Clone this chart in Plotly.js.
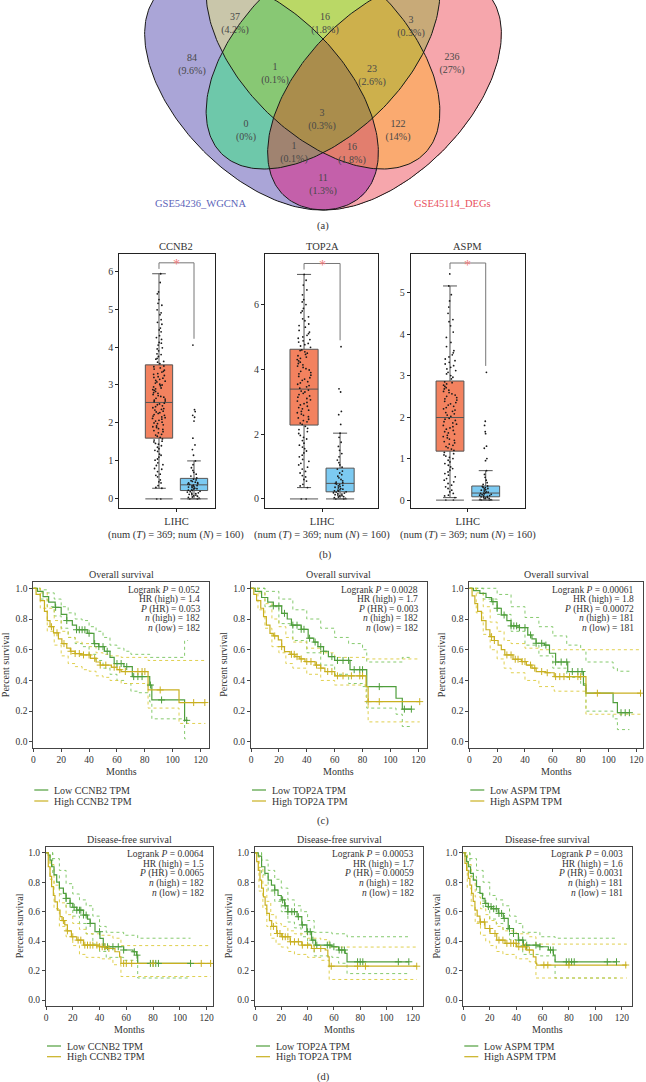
<!DOCTYPE html>
<html><head><meta charset="utf-8">
<script src="https://cdn.plot.ly/plotly-3.0.1.min.js"></script>
<style>html,body{margin:0;padding:0;background:#fff}#chart{width:646px;height:1082px}</style>
</head><body><div id="chart"></div>
<script>
// ---------------- DATA ----------------
// (a) Venn
const vennSetNames = ['GSE54236_WGCNA', 'GSE45114_DEGs'];
const vennCounts = [84, 37, 16, 3, 236, 1, 23, 0, 3, 122, 1, 16, 11];
const vennPcts = ['9.6%', '4.2%', '1.8%', '0.3%', '27%', '0.1%', '2.6%', '0%', '0.3%', '14%', '0.1%', '1.8%', '1.3%'];

// (b) boxplots: [lowerfence, q1, median, q3, upperfence]
const boxGenes = ['CCNB2', 'TOP2A', 'ASPM'];
const ccnb2TumorStats = [0.28, 1.6, 2.54, 3.53, 5.93];
const ccnb2NormalStats = [0, 0.22, 0.37, 0.54, 1.0];
const top2aTumorStats = [0.35, 2.28, 3.39, 4.62, 6.93];
const top2aNormalStats = [0, 0.22, 0.48, 0.95, 2.03];
const aspmTumorStats = [0.06, 1.18, 1.99, 2.87, 5.16];
const aspmNormalStats = [0, 0.08, 0.17, 0.34, 0.71];

const ccnb2TumorPts = [0,0,
 0.28,0.3,0.35,0.42,0.45,0.5,0.58,0.62,0.65,0.72,0.78,0.8,0.88,0.9,0.95,1.02,1.05,1.1,1.15,1.18,1.25,1.28,1.32,1.36,1.4,1.44,1.46,1.5,1.52,1.55,1.58,
 1.62,1.65,1.68,1.7,1.74,1.77,1.8,1.83,1.85,1.88,1.9,1.92,1.95,1.98,2.0,2.02,2.05,2.07,2.1,2.12,2.14,2.16,2.18,2.2,2.22,2.25,2.27,2.29,2.31,2.34,2.36,2.38,2.4,2.43,2.45,2.48,2.5,2.52,
 2.56,2.58,2.6,2.63,2.65,2.68,2.7,2.72,2.75,2.78,2.8,2.83,2.86,2.88,2.9,2.92,2.95,2.98,3.0,3.02,3.05,3.08,3.1,3.12,3.15,3.18,3.2,3.22,3.25,3.28,3.3,3.34,3.36,3.39,3.42,3.45,3.48,3.5,
 3.56,3.6,3.62,3.68,3.7,3.75,3.8,3.82,3.9,3.95,3.98,4.05,4.1,4.12,4.2,4.25,4.3,4.4,4.45,4.5,4.6,4.65,4.72,4.85,4.9,4.98,5.1,5.15,5.25,5.4,5.45,5.7,5.93];
const ccnb2NormalPts = [0,0,
 0.02,0.04,0.05,0.07,0.08,0.1,0.11,0.12,0.14,0.15,0.16,0.18,0.19,0.2,0.22,0.23,0.24,0.26,0.27,0.28,0.3,0.31,0.32,0.34,0.35,0.36,0.38,0.39,0.4,0.42,0.43,0.44,0.46,0.48,0.5,0.52,
 0.55,0.6,0.65,0.7,0.75,0.82,0.9,1.0,1.15,1.3,1.42,1.6,2.05,2.15,2.2,2.3,2.35,4.05];
const top2aTumorPts = [0,0,
 0.35,0.4,0.45,0.55,0.6,0.68,0.72,0.8,0.85,0.92,0.98,1.05,1.1,1.16,1.22,1.3,1.35,1.42,1.48,1.55,1.6,1.66,1.72,1.8,1.85,1.9,1.96,2.02,2.08,2.14,2.18,2.24,
 2.3,2.34,2.38,2.42,2.46,2.5,2.54,2.58,2.62,2.66,2.7,2.74,2.78,2.82,2.86,2.9,2.94,2.98,3.02,3.06,3.1,3.14,3.18,3.22,3.26,3.3,3.33,3.36,
 3.42,3.46,3.5,3.54,3.58,3.62,3.66,3.7,3.74,3.78,3.82,3.86,3.9,3.94,3.98,4.02,4.06,4.1,4.14,4.18,4.22,4.26,4.3,4.34,4.38,4.42,4.46,4.5,4.54,4.58,4.6,
 4.68,4.72,4.76,4.8,4.84,4.88,4.92,4.96,5.0,5.05,5.1,5.15,5.2,5.3,5.35,5.4,5.5,5.56,5.62,5.75,5.8,5.88,6.0,6.08,6.15,6.3,6.45,6.6,6.75,6.93];
const top2aNormalPts = [0,0,
 0.02,0.04,0.06,0.07,0.09,0.1,0.12,0.13,0.15,0.16,0.18,0.19,0.21,0.22,0.24,0.25,0.27,0.28,0.3,0.32,0.34,0.36,0.38,0.4,0.42,0.44,0.46,0.48,0.5,0.52,0.56,0.6,0.65,0.7,0.75,0.8,0.86,0.92,0.98,
 1.05,1.12,1.2,1.3,1.4,1.5,1.62,1.75,1.9,2.03,2.3,2.6,2.7,3.3,3.4,4.7];
const aspmTumorPts = [0,0,
 0.06,0.1,0.12,0.16,0.2,0.24,0.28,0.32,0.36,0.4,0.44,0.48,0.52,0.56,0.6,0.64,0.68,0.72,0.76,0.8,0.84,0.88,0.92,0.96,1.0,1.03,1.06,1.09,1.12,1.15,
 1.2,1.23,1.26,1.29,1.32,1.35,1.38,1.41,1.44,1.47,1.5,1.53,1.56,1.59,1.62,1.65,1.68,1.71,1.74,1.77,1.8,1.83,1.86,1.89,1.92,1.95,1.97,
 2.02,2.05,2.08,2.11,2.14,2.17,2.2,2.23,2.26,2.29,2.32,2.35,2.38,2.41,2.44,2.47,2.5,2.53,2.56,2.59,2.62,2.65,2.68,2.71,2.74,2.77,2.8,2.83,2.85,
 2.92,2.96,3.0,3.04,3.08,3.12,3.16,3.2,3.24,3.28,3.32,3.36,3.4,3.45,3.5,3.55,3.6,3.7,3.8,3.92,4.05,4.2,4.3,4.35,4.5,4.65,4.8,4.95,5.16,5.45];
const aspmNormalPts = [0,0,
 0.01,0.02,0.03,0.04,0.05,0.06,0.07,0.08,0.09,0.1,0.11,0.12,0.13,0.14,0.15,0.16,0.17,0.18,0.19,0.2,0.22,0.24,0.25,0.27,0.28,0.3,0.31,0.33,0.34,0.38,0.42,0.48,0.55,0.62,0.71,
 0.95,1.0,1.25,1.3,1.6,1.65,1.8,1.9,3.08];
const boxTickText = 'LIHC';
const boxNumText = '(num (<i>T</i>) = 369; num (<i>N</i>) = 160)';

// (c)/(d) Kaplan–Meier: [months, survival]
const osCcnb2Low = [[0,1],[3,0.98],[7,0.946],[11,0.91],[15.7,0.876],[20,0.83],[24,0.79],[28,0.76],[31,0.73],[38.7,0.707],[43.5,0.64],[47,0.62],[51,0.59],[55,0.55],[58,0.51],[65,0.49],[71,0.425],[82,0.425],[83.5,0.37],[85,0.273],[108.5,0.14],[111,0.14]];
const osCcnb2LowUp = [[0,1],[5,0.99],[10,0.97],[15,0.93],[20,0.88],[25,0.84],[30,0.8],[35,0.79],[40,0.75],[45,0.72],[50,0.68],[55,0.63],[60,0.61],[65,0.59],[70,0.57],[83.5,0.55],[108.5,0.66],[111,0.66]];
const osCcnb2LowLo = [[0,1],[5,0.93],[10,0.88],[15,0.82],[20,0.74],[25,0.68],[30,0.64],[35,0.62],[40,0.57],[45,0.53],[50,0.48],[55,0.44],[60,0.4],[65,0.38],[70,0.33],[75,0.32],[83.5,0.26],[85,0.15],[108.5,0.02],[111,0.02]];
const osCcnb2High = [[0,1],[2,0.96],[5,0.92],[8,0.85],[10,0.79],[12,0.75],[14.5,0.71],[18,0.67],[20.5,0.64],[24,0.61],[26.6,0.59],[30,0.575],[34,0.566],[41,0.544],[45,0.52],[48,0.5],[56,0.486],[60,0.47],[63,0.458],[82.3,0.338],[104.5,0.256],[123.4,0.256]];
const osCcnb2HighUp = [[0,1],[5,0.97],[10,0.87],[15,0.79],[20,0.72],[25,0.68],[30,0.65],[35,0.64],[40,0.62],[45,0.58],[50,0.57],[55,0.56],[63,0.55],[82.3,0.53],[123.4,0.53]];
const osCcnb2HighLo = [[0,1],[5,0.87],[10,0.72],[15,0.63],[20,0.56],[25,0.51],[30,0.49],[35,0.47],[40,0.46],[45,0.43],[50,0.42],[55,0.4],[63,0.38],[82.3,0.22],[104.5,0.12],[123.4,0.12]];
const osCcnb2LowCens = [16,24,31,33,35,37,40,44,47,50,53,60,63,67,72,75,78,84,92,110];
const osCcnb2HighCens = [13,17,22,27,30,33,36,40,44,48,52,58,62,66,75,78,80,91,115,123];

const osTop2aLow = [[0,1],[3,0.98],[7.6,0.94],[12,0.91],[16,0.885],[22,0.837],[26,0.8],[29,0.76],[36,0.733],[41,0.675],[45,0.65],[48,0.62],[52,0.59],[55.5,0.555],[60,0.53],[71,0.47],[83,0.36],[104,0.284],[108.5,0.213],[115,0.213]];
const osTop2aLowUp = [[0,1],[10,0.98],[20,0.93],[30,0.86],[40,0.8],[50,0.74],[60,0.68],[70,0.64],[80,0.6],[83,0.52],[104,0.52],[108.5,0.55],[115,0.55]];
const osTop2aLowLo = [[0,1],[10,0.88],[20,0.77],[30,0.66],[40,0.58],[50,0.5],[60,0.44],[70,0.38],[80,0.36],[83,0.22],[104,0.18],[108.5,0.1],[115,0.1]];
const osTop2aHigh = [[0,1],[2,0.96],[4,0.92],[7,0.87],[9,0.815],[11,0.76],[13.6,0.707],[16,0.69],[19.6,0.664],[22,0.62],[24,0.588],[28,0.57],[31.5,0.555],[35,0.54],[38.7,0.523],[46,0.5],[50,0.48],[53,0.458],[60,0.43],[82.5,0.36],[84,0.262],[121,0.262]];
const osTop2aHighUp = [[0,1],[5,0.97],[10,0.9],[15,0.8],[20,0.75],[25,0.68],[30,0.65],[40,0.61],[50,0.58],[60,0.55],[82.5,0.54],[121,0.54]];
const osTop2aHighLo = [[0,1],[5,0.86],[10,0.74],[15,0.62],[20,0.58],[25,0.51],[30,0.48],[40,0.44],[50,0.4],[60,0.37],[82.5,0.29],[84,0.13],[121,0.13]];
const osTop2aLowCens = [16,20,24,30,33,36,38,42,46,50,52,58,62,66,70,74,78,80,92,110,115];
const osTop2aHighCens = [17,22,29,31,33,36,40,43,47,50,55,58,62,66,72,78,80,84,92,121];

const osAspmLow = [[0,1],[3,0.985],[7.6,0.967],[12,0.94],[16,0.913],[20,0.87],[23,0.826],[27,0.79],[30,0.755],[36,0.744],[42,0.696],[45,0.67],[48,0.642],[54,0.63],[57.6,0.577],[62,0.52],[70.7,0.458],[82,0.37],[83.8,0.317],[103.3,0.256],[106.4,0.19],[115,0.19]];
const osAspmLowUp = [[0,1],[10,1.0],[20,0.96],[30,0.88],[40,0.81],[50,0.75],[60,0.69],[70,0.63],[80,0.6],[83.8,0.52],[103.3,0.48],[106.4,0.46],[115,0.46]];
const osAspmLowLo = [[0,1],[10,0.93],[20,0.83],[30,0.72],[40,0.63],[50,0.56],[60,0.48],[70,0.42],[80,0.38],[83.8,0.2],[103.3,0.15],[106.4,0.08],[115,0.08]];
const osAspmHigh = [[0,1],[2,0.95],[4,0.9],[6,0.85],[8.8,0.79],[12,0.73],[14.8,0.685],[18,0.66],[20.7,0.63],[23,0.6],[25.5,0.566],[31.4,0.538],[37.4,0.523],[41,0.5],[45,0.48],[48,0.458],[55,0.45],[61,0.425],[83.8,0.317],[123,0.317]];
const osAspmHighUp = [[0,1],[5,0.97],[10,0.88],[15,0.78],[20,0.72],[25,0.66],[30,0.64],[40,0.61],[50,0.6],[123,0.6]];
const osAspmHighLo = [[0,1],[5,0.84],[10,0.7],[15,0.6],[20,0.54],[25,0.48],[30,0.45],[40,0.4],[50,0.36],[61,0.33],[83.8,0.18],[123,0.18]];
const osAspmLowCens = [17,20,25,30,32,34,36,40,44,48,52,55,62,66,70,74,78,81,109,112,115];
const osAspmHighCens = [16,18,27,30,33,35,38,40,44,47,52,56,62,65,68,72,78,80,92,123];

const dfsCcnb2Low = [[0,1],[1.7,0.984],[3,0.95],[4.2,0.905],[6,0.85],[8,0.8],[10,0.76],[13,0.724],[15,0.69],[18,0.656],[20,0.63],[23,0.61],[28,0.577],[31,0.55],[33,0.52],[36.6,0.464],[40.3,0.419],[42.8,0.362],[58,0.34],[65,0.328],[67.7,0.305],[68.5,0.249],[108,0.249]];
const dfsCcnb2LowUp = [[0,1],[5,0.96],[10,0.88],[15,0.79],[20,0.72],[25,0.68],[30,0.64],[35,0.57],[40,0.5],[45,0.46],[58,0.44],[68.5,0.42],[108,0.42]];
const dfsCcnb2LowLo = [[0,1],[5,0.85],[10,0.72],[15,0.63],[20,0.57],[25,0.52],[30,0.45],[35,0.38],[40,0.33],[45,0.29],[58,0.27],[68.5,0.15],[108,0.15]];
const dfsCcnb2High = [[0,1],[1.7,0.905],[3,0.84],[4.2,0.77],[5.5,0.71],[6.7,0.667],[8.5,0.61],[10.5,0.566],[12,0.54],[14,0.51],[16,0.47],[19,0.43],[23,0.407],[28,0.373],[40,0.362],[45,0.35],[51.5,0.328],[55,0.294],[56,0.249],[123,0.249]];
const dfsCcnb2HighUp = [[0,1],[3,0.92],[6,0.78],[10,0.66],[15,0.58],[20,0.52],[25,0.48],[30,0.45],[40,0.44],[50,0.42],[56,0.37],[123,0.37]];
const dfsCcnb2HighLo = [[0,1],[3,0.82],[6,0.62],[10,0.5],[15,0.43],[20,0.37],[25,0.31],[30,0.29],[40,0.28],[50,0.24],[56,0.16],[123,0.16]];
const dfsCcnb2LowCens = [15,18,21,23,25,26,28,30,33,40,44,46,50,54,58,66,68,78,80,82,84,108];
const dfsCcnb2HighCens = [13,16,20,24,26,29,31,33,35,38,40,42,44,47,58,60,64,80,116,123];

const dfsTop2aLow = [[0,1],[2.5,0.977],[5,0.905],[7.5,0.86],[10,0.814],[12.5,0.78],[15,0.747],[17.5,0.71],[20,0.68],[22.5,0.64],[25,0.6],[32,0.566],[35.6,0.51],[39.4,0.464],[43,0.407],[46,0.373],[58.5,0.362],[63.6,0.34],[68.6,0.317],[70,0.26],[117,0.26]];
const dfsTop2aLowUp = [[0,1],[5,0.95],[10,0.88],[15,0.82],[20,0.76],[25,0.68],[30,0.64],[35,0.6],[40,0.54],[45,0.46],[58.5,0.45],[70,0.43],[117,0.43]];
const dfsTop2aLowLo = [[0,1],[5,0.85],[10,0.74],[15,0.67],[20,0.6],[25,0.53],[30,0.49],[35,0.43],[40,0.38],[45,0.3],[58.5,0.29],[63.6,0.25],[70,0.18],[117,0.18]];
const dfsTop2aHigh = [[0,1],[1.3,0.94],[2.5,0.88],[3.8,0.814],[5,0.76],[6.4,0.7],[7.7,0.645],[9,0.588],[11,0.54],[12.7,0.5],[16.5,0.452],[20,0.43],[26.7,0.396],[35.6,0.373],[43,0.35],[53.4,0.34],[55.4,0.294],[56.4,0.23],[123,0.23]];
const dfsTop2aHighUp = [[0,1],[3,0.9],[6,0.78],[9,0.67],[12,0.58],[16,0.52],[20,0.5],[25,0.47],[30,0.45],[40,0.42],[50,0.41],[56.4,0.36],[123,0.36]];
const dfsTop2aHighLo = [[0,1],[3,0.74],[6,0.62],[9,0.5],[12,0.42],[16,0.38],[20,0.36],[25,0.33],[30,0.31],[40,0.29],[50,0.27],[56.4,0.14],[123,0.14]];
const dfsTop2aLowCens = [15,21,23,25,28,30,33,36,40,42,44,47,55,57,60,64,66,68,78,80,82,109,117];
const dfsTop2aHighCens = [14,17,19,21,23,25,27,30,33,36,40,45,50,58,78,84,123];

const dfsAspmLow = [[0,1],[1.3,0.977],[2.5,0.94],[3.8,0.905],[5.5,0.86],[7.6,0.814],[10,0.77],[12.6,0.724],[14.5,0.69],[16.4,0.656],[19,0.635],[21.5,0.62],[26.5,0.588],[30.3,0.554],[34,0.486],[38,0.452],[41.7,0.407],[45.5,0.373],[58,0.362],[64.4,0.34],[68.2,0.305],[69.5,0.26],[116,0.26]];
const dfsAspmLowUp = [[0,1],[5,0.96],[10,0.88],[15,0.8],[20,0.71],[25,0.68],[30,0.64],[35,0.57],[40,0.52],[45,0.46],[58,0.43],[69.5,0.42],[116,0.42]];
const dfsAspmLowLo = [[0,1],[5,0.84],[10,0.73],[15,0.63],[20,0.55],[25,0.52],[30,0.48],[35,0.41],[40,0.37],[45,0.31],[58,0.3],[69.5,0.15],[116,0.15]];
const dfsAspmHigh = [[0,1],[1.3,0.927],[2.5,0.88],[3.8,0.826],[5,0.78],[6.3,0.724],[7.5,0.67],[8.8,0.61],[10.5,0.57],[12.6,0.53],[16.4,0.486],[20.2,0.452],[25.3,0.407],[31.6,0.385],[40.4,0.362],[48,0.34],[53,0.294],[55,0.249],[55.6,0.238],[123.8,0.238]];
const dfsAspmHighUp = [[0,1],[3,0.92],[6,0.82],[9,0.7],[13,0.62],[17,0.58],[20,0.54],[25,0.5],[30,0.47],[40,0.45],[50,0.43],[55,0.38],[123.8,0.38]];
const dfsAspmHighLo = [[0,1],[3,0.76],[6,0.64],[9,0.52],[13,0.44],[17,0.4],[20,0.37],[25,0.33],[30,0.31],[40,0.28],[50,0.26],[55,0.15],[123.8,0.15]];
const dfsAspmLowCens = [17,19,21,23,25,27,29,31,35,38,42,45,48,55,58,66,68,78,80,82,84,109,116];
const dfsAspmHighCens = [13,16,20,24,27,30,33,36,38,40,42,45,47,50,61,64,80,123];

const kmTitles = ['Overall survival', 'Disease-free survival'];
const kmLogrankP = ['0.052', '0.0028', '0.00061', '0.0064', '0.00053', '0.003'];
const kmHR = ['1.4', '1.7', '1.8', '1.5', '1.7', '1.6'];
const kmPHR = ['0.053', '0.003', '0.00072', '0.0065', '0.00059', '0.0031'];
const kmNHigh = [182, 182, 181, 182, 182, 181];
const kmNLow = [182, 182, 181, 182, 182, 181];
const kmXTicks = [0, 20, 40, 60, 80, 100, 120];
const kmYTicks = [0, 0.2, 0.4, 0.6, 0.8, 1.0];

// ---------------- LAYOUT HELPERS ----------------
const W = 646, H = 1082;
const px = x => x / W, py = y => 1 - y / H;
const FONT = 'Liberation Serif, Times New Roman, serif';
const TXT = '#333';
const traces = [], shapes = [], annotations = [];
const layout = {
  width: W, height: H, margin: {l: 0, r: 0, t: 0, b: 0},
  paper_bgcolor: '#fff', plot_bgcolor: 'rgba(0,0,0,0)', showlegend: false,
  font: {family: FONT, color: TXT, size: 10}, boxmode: 'overlay', hovermode: false
};
const axKey = (c, i) => c + 'axis' + (i === 1 ? '' : i);
const axRef = (c, i) => c + (i === 1 ? '' : i);
function note(text, x, y, opts) {
  annotations.push(Object.assign({text, x: px(x), y: py(y), xref: 'paper', yref: 'paper',
    showarrow: false, xanchor: 'center', yanchor: 'middle', font: {family: FONT, size: 10, color: TXT}}, opts || {}));
}

// ---------------- (a) VENN ----------------
const VI = 10, VH = 232;
layout[axKey('x', VI)] = {domain: [0, 1], range: [0, W], visible: false, fixedrange: true, anchor: axRef('y', VI)};
layout[axKey('y', VI)] = {domain: [py(VH), 1], range: [VH, 0], visible: false, fixedrange: true, anchor: axRef('x', VI)};
const vennScale = 410, vennCx = 323, vennBaseY = 210;
// ellipse geometry (VennDiagram quad layout): centre (u,v), rotation in degrees
const vennEllipses = [
  {u: 0.35, v: 0.47, rot: 135},
  {u: 0.50, v: 0.57, rot: 135},
  {u: 0.50, v: 0.57, rot: 45},
  {u: 0.65, v: 0.47, rot: 45}
];
// fill colour for each membership combination (bit 1=purple set, 2=yellow, 4=green, 8=pink)
const vennRegionColors = {
  1: [170,165,215], 2: [255,250,182], 4: [182,222,166], 8: [246,166,172],
  3: [201,198,170], 5: [110,200,170], 6: [186,216,102], 9: [196,96,170],
  10: [250,170,112], 12: [200,170,120], 7: [136,200,116], 11: [226,126,110],
  13: [160,131,112], 14: [205,176,76], 15: [170,141,76]
};
const ellGeom = vennEllipses.map(e => ({
  cx: vennCx + (e.u - 0.5) * vennScale, cy: vennBaseY - (e.v - 0.185) * vennScale,
  a: 0.35 * vennScale, b: 0.20 * vennScale, th: e.rot * Math.PI / 180
}));
function inside(g, x, y) {
  const dx = x - g.cx, dy = g.cy - y;
  const p = dx * Math.cos(g.th) + dy * Math.sin(g.th), q = -dx * Math.sin(g.th) + dy * Math.cos(g.th);
  return (p * p) / (g.a * g.a) + (q * q) / (g.b * g.b) <= 1;
}
(function () {
  const SS = 2, cw = W * SS, ch = VH * SS;
  const cv = document.createElement('canvas'); cv.width = cw; cv.height = ch;
  const ctx = cv.getContext('2d'); const img = ctx.createImageData(cw, ch);
  for (let j = 0; j < ch; j++) for (let i = 0; i < cw; i++) {
    const x = (i + 0.5) / SS, y = (j + 0.5) / SS;
    let m = 0; ellGeom.forEach((g, k) => { if (inside(g, x, y)) m |= (1 << k); });
    const c = m ? vennRegionColors[m] : [255, 255, 255];
    const o = (j * cw + i) * 4; img.data[o] = c[0]; img.data[o + 1] = c[1]; img.data[o + 2] = c[2]; img.data[o + 3] = m ? 255 : 0;
  }
  ctx.putImageData(img, 0, 0);
  traces.push({type: 'image', source: cv.toDataURL(), x0: 0.25, dx: 1 / SS, y0: 0.25, dy: 1 / SS,
    xaxis: axRef('x', VI), yaxis: axRef('y', VI), hoverinfo: 'skip'});
})();
ellGeom.forEach(g => {
  const xs = [], ys = [];
  for (let k = 0; k <= 240; k++) {
    const t = 2 * Math.PI * k / 240;
    xs.push(g.cx + g.a * Math.cos(t) * Math.cos(g.th) - g.b * Math.sin(t) * Math.sin(g.th));
    ys.push(g.cy - (g.a * Math.cos(t) * Math.sin(g.th) + g.b * Math.sin(t) * Math.cos(g.th)));
  }
  traces.push({type: 'scatter', mode: 'lines', x: xs, y: ys, xaxis: axRef('x', VI), yaxis: axRef('y', VI),
    line: {color: '#1a1a1a', width: 1}, hoverinfo: 'skip'});
});
const vennLabelPos = [[192,65],[235,24],[325,24],[411,27],[452,64],[275,74],[372,76],[246,131],[322,120],[398,131],[294,153],[352,154],[323,185]];
traces.push({type: 'scatter', mode: 'text', xaxis: axRef('x', VI), yaxis: axRef('y', VI),
  x: vennLabelPos.map(p => p[0]), y: vennLabelPos.map(p => p[1]),
  text: vennCounts.map((c, i) => c + '<br>(' + vennPcts[i] + ')'),
  textfont: {family: FONT, size: 10, color: '#484848'}, hoverinfo: 'skip'});
note(vennSetNames[0], 200, 203, {font: {family: FONT, size: 10.5, color: '#5b63b8'}});
note(vennSetNames[1], 452, 203, {font: {family: FONT, size: 10.5, color: '#e8505c'}});
note('(a)', 323, 226, {font: {family: FONT, size: 10.5, color: TXT}});

// ---------------- (b) BOXPLOTS ----------------
const boxPanelsX = [[119.3, 215], [265, 378.3], [410.7, 525]];
const boxXRange = [[-0.134, 2.6], [-0.083, 3.06], [-0.1, 3.1]];
const boxYRange = [[-0.24, 6.45], [-0.28, 7.56], [-0.19, 5.93]];
const boxDtick = [1, 2, 1];
const boxTumorStats = [ccnb2TumorStats, top2aTumorStats, aspmTumorStats];
const boxNormalStats = [ccnb2NormalStats, top2aNormalStats, aspmNormalStats];
const boxTumorPts = [ccnb2TumorPts, top2aTumorPts, aspmTumorPts];
const boxNormalPts = [ccnb2NormalPts, top2aNormalPts, aspmNormalPts];
const BOXW = 0.78;
boxGenes.forEach((g, k) => {
  const i = k + 1, xa = axRef('x', i), ya = axRef('y', i);
  layout[axKey('x', i)] = {domain: [px(boxPanelsX[k][0]), px(boxPanelsX[k][1])], range: boxXRange[k], anchor: ya,
    showline: true, mirror: true, linecolor: '#222', linewidth: 1, ticks: 'outside', ticklen: 3, tickcolor: '#222',
    tickvals: [1.5], ticktext: [boxTickText], tickfont: {family: FONT, size: 10.5, color: TXT},
    showgrid: false, zeroline: false, fixedrange: true};
  layout[axKey('y', i)] = {domain: [py(508), py(254)], range: boxYRange[k], anchor: xa,
    showline: true, mirror: true, linecolor: '#222', linewidth: 1, ticks: 'outside', ticklen: 3, tickcolor: '#222',
    tick0: 0, dtick: boxDtick[k], tickfont: {family: FONT, size: 10, color: TXT},
    showgrid: false, zeroline: false, fixedrange: true};
  const addStats = (st, pos, color) => traces.push({type: 'box', xaxis: xa, yaxis: ya, x: [pos],
    lowerfence: [st[0]], q1: [st[1]], median: [st[2]], q3: [st[3]], upperfence: [st[4]],
    width: BOXW, whiskerwidth: 0.5, fillcolor: color, line: {color: '#555', width: 1}, boxpoints: false, hoverinfo: 'skip'});
  const addPts = (vals, pos) => traces.push({type: 'box', xaxis: xa, yaxis: ya, x0: pos, y: vals,
    width: BOXW, boxpoints: 'all', jitter: 0.5, pointpos: 0, fillcolor: 'rgba(0,0,0,0)',
    line: {color: 'rgba(0,0,0,0)', width: 0}, whiskerwidth: 0, marker: {size: 1.8, color: '#1a1a1a'}, hoverinfo: 'skip'});
  addStats(boxTumorStats[k], 1, '#f3825f');
  addStats(boxNormalStats[k], 2, '#7ccaf2');
  addPts(boxTumorPts[k], 1);
  addPts(boxNormalPts[k], 2);
  // minimum line of each group (full box width), from the data minimum
  [[boxTumorPts[k], 1], [boxNormalPts[k], 2]].forEach(([v, pos]) => {
    const mn = Math.min(...v);
    shapes.push({type: 'line', xref: xa, yref: ya, x0: pos - BOXW / 2, x1: pos + BOXW / 2, y0: mn, y1: mn,
      line: {color: '#555', width: 1}});
  });
  // significance bracket from data maxima
  const span = boxYRange[k][1] - boxYRange[k][0];
  const tMax = Math.max(...boxTumorPts[k]), nMax = Math.max(...boxNormalPts[k]);
  const yTop = tMax + 0.043 * span, yL = tMax + 0.019 * span, yR = nMax + 0.025 * span;
  shapes.push({type: 'path', xref: xa, yref: ya, path: `M1,${yL}L1,${yTop}L2,${yTop}L2,${yR}`,
    line: {color: '#777', width: 1}, layer: 'above'});
  annotations.push({text: '*', x: 1.5, y: yTop, xref: xa, yref: ya, showarrow: false, yanchor: 'middle', yshift: -2,
    font: {family: FONT, size: 14, color: '#f07a7a'}});
  const midPx = boxPanelsX[k][0] + (1.5 - boxXRange[k][0]) / (boxXRange[k][1] - boxXRange[k][0]) * (boxPanelsX[k][1] - boxPanelsX[k][0]);
  note(g, midPx, 246, {font: {family: FONT, size: 10.5, color: TXT}});
  note(boxNumText, midPx, 535, {font: {family: FONT, size: 10.5, color: TXT}});
});
note('(b)', 325, 555, {font: {family: FONT, size: 10.5, color: TXT}});

// ---------------- (c)/(d) KAPLAN–MEIER ----------------
const kmPanelsX = [[33.3, 209], [251, 426.7], [469.3, 643.3], [46, 213.3], [255, 423.3], [463.3, 631.7]];
const kmRowsY = [[582, 747.7], [846.7, 1005.7]];
const kmXMax = [126, 126, 125, 125, 128, 127.5];
const kmGenes = ['CCNB2', 'TOP2A', 'ASPM', 'CCNB2', 'TOP2A', 'ASPM'];
const kmSeries = [
  [osCcnb2Low, osCcnb2LowUp, osCcnb2LowLo, osCcnb2High, osCcnb2HighUp, osCcnb2HighLo, osCcnb2LowCens, osCcnb2HighCens],
  [osTop2aLow, osTop2aLowUp, osTop2aLowLo, osTop2aHigh, osTop2aHighUp, osTop2aHighLo, osTop2aLowCens, osTop2aHighCens],
  [osAspmLow, osAspmLowUp, osAspmLowLo, osAspmHigh, osAspmHighUp, osAspmHighLo, osAspmLowCens, osAspmHighCens],
  [dfsCcnb2Low, dfsCcnb2LowUp, dfsCcnb2LowLo, dfsCcnb2High, dfsCcnb2HighUp, dfsCcnb2HighLo, dfsCcnb2LowCens, dfsCcnb2HighCens],
  [dfsTop2aLow, dfsTop2aLowUp, dfsTop2aLowLo, dfsTop2aHigh, dfsTop2aHighUp, dfsTop2aHighLo, dfsTop2aLowCens, dfsTop2aHighCens],
  [dfsAspmLow, dfsAspmLowUp, dfsAspmLowLo, dfsAspmHigh, dfsAspmHighUp, dfsAspmHighLo, dfsAspmLowCens, dfsAspmHighCens]
];
const LOW = '#4f9e3c', LOWCI = '#78c45e', HIGH = '#c9b020', HIGHCI = '#dccb3c';
function stepAt(curve, t) { let s = curve[0][1]; for (const p of curve) { if (p[0] <= t) s = p[1]; else break; } return s; }

kmSeries.forEach((S, k) => {
  const i = 4 + k, xa = axRef('x', i), ya = axRef('y', i);
  const row = k < 3 ? 0 : 1;
  const [x0, x1] = kmPanelsX[k], [yT, yB] = kmRowsY[row];
  layout[axKey('x', i)] = {domain: [px(x0), px(x1)], range: [0, kmXMax[k]], anchor: ya,
    showline: true, mirror: true, linecolor: '#444', linewidth: 1, ticks: 'outside', ticklen: 3, tickcolor: '#444',
    tickvals: kmXTicks, tickfont: {family: FONT, size: 9.5, color: TXT}, showgrid: false, zeroline: false, fixedrange: true};
  layout[axKey('y', i)] = {domain: [py(yB), py(yT)], range: [-0.038, 1.041], anchor: xa,
    showline: true, mirror: true, linecolor: '#444', linewidth: 1, ticks: 'outside', ticklen: 3, tickcolor: '#444',
    tickvals: kmYTicks, tickformat: '.1f', tickfont: {family: FONT, size: 9.5, color: TXT}, showgrid: false, zeroline: false, fixedrange: true};
  const line = (pts, color, width, dash) => traces.push({type: 'scatter', mode: 'lines', xaxis: xa, yaxis: ya,
    x: pts.map(p => p[0]), y: pts.map(p => p[1]), line: {color, width, dash, shape: 'hv'}, hoverinfo: 'skip'});
  const cens = (curve, times, color) => traces.push({type: 'scatter', mode: 'markers', xaxis: xa, yaxis: ya,
    x: times, y: times.map(t => stepAt(curve, t)),
    marker: {symbol: 'cross-thin', size: 5, line: {width: 1, color}}, hoverinfo: 'skip'});
  line(S[1], LOWCI, 0.9, 'dot'); line(S[2], LOWCI, 0.9, 'dot');
  line(S[4], HIGHCI, 0.9, 'dot'); line(S[5], HIGHCI, 0.9, 'dot');
  line(S[0], LOW, 1.2, 'solid'); line(S[3], HIGH, 1.2, 'solid');
  cens(S[0], S[6], LOW); cens(S[3], S[7], HIGH);

  const cx = (x0 + x1) / 2, cy = (yT + yB) / 2;
  note(kmTitles[row], cx, yT - 7.5, {font: {family: FONT, size: 10, color: TXT}});
  note('Months', cx, yB + 24, {font: {family: FONT, size: 10, color: TXT}});
  note('Percent survival', x0 - 27, cy, {textangle: -90, font: {family: FONT, size: 10, color: TXT}});
  const stats = ['Logrank <i>P</i> = ' + kmLogrankP[k], 'HR (high) = ' + kmHR[k], '<i>P</i> (HR) = ' + kmPHR[k],
    '<i>n</i> (high) = ' + kmNHigh[k], '<i>n</i> (low) = ' + kmNLow[k]];
  stats.forEach((s, j) => note(s, x1 - 7, yT + 7.5 + j * 9.8, {xanchor: 'right', font: {family: FONT, size: 9.5, color: TXT}}));
  // legend keys
  const lg = row === 0 ? [790, 801] : [1046, 1056.7];
  [[LOW, 'Low ' + kmGenes[k] + ' TPM'], [HIGH, 'High ' + kmGenes[k] + ' TPM']].forEach(([c, t], j) => {
    shapes.push({type: 'line', xref: 'paper', yref: 'paper', x0: px(x0 + 1), x1: px(x0 + 15), y0: py(lg[j]), y1: py(lg[j]), line: {color: c, width: 1.2}});
    note(t, x0 + 19, lg[j], {xanchor: 'left', font: {family: FONT, size: 10, color: TXT}});
  });
});
note('(c)', 323, 821, {font: {family: FONT, size: 10.5, color: TXT}});
note('(d)', 323, 1077, {font: {family: FONT, size: 10.5, color: TXT}});

layout.shapes = shapes;
layout.annotations = annotations;
Plotly.newPlot('chart', traces, layout, {staticPlot: true, displayModeBar: false});
</script></body></html>
